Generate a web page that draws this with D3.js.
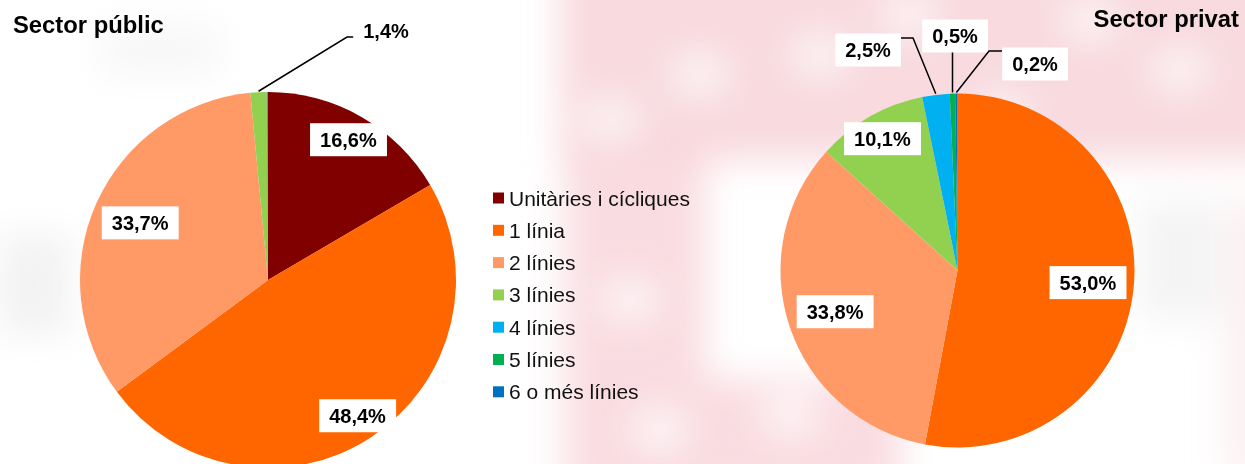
<!DOCTYPE html>
<html>
<head>
<meta charset="utf-8">
<script src="https://cdn.jsdelivr.net/npm/d3@7"></script>
<style>
  body { margin: 0; background: #fff; }
  svg { display: block; font-family: Arial, "Liberation Sans", sans-serif; }
</style>
</head>
<body>
<div id="chart"></div>
<script>
// categories and values (percent)
const categories = ["Unitàries i cícliques", "1 línia", "2 línies", "3 línies", "4 línies", "5 línies", "6 o més línies"];
const colorList = ["#800000", "#ff6600", "#ff9966", "#92d050", "#00b0f0", "#00b050", "#0070c0"];
const publicValues = [16.6, 48.4, 33.7, 1.4, 0.05, 0.0, 0.05];
const privateValues = [0.0, 53.0, 33.8, 10.1, 2.5, 0.5, 0.2];
const publicLabels = ["16,6%", "48,4%", "33,7%", "1,4%", "", "", ""];
const privateLabels = ["", "53,0%", "33,8%", "10,1%", "2,5%", "0,5%", "0,2%"];

var width = 1245, height = 464;

var svg = d3.select("#chart")
  .append("svg")
  .attr("width", width)
  .attr("height", height);

// faint watermark in the background
var defs = svg.append("defs");
defs.append("filter").attr("id", "blur")
  .attr("filterUnits", "userSpaceOnUse")
  .attr("x", -200).attr("y", -200).attr("width", 1700).attr("height", 900)
  .append("feGaussianBlur").attr("stdDeviation", 18);

var bg = svg.append("g").attr("filter", "url(#blur)");
var pink = "#f7d3d9";
bg.append("rect").attr("x", 560).attr("y", -40).attr("width", 720).attr("height", 200).attr("fill", pink).attr("opacity", 0.85);
bg.append("rect").attr("x", 565).attr("y", 150).attr("width", 140).attr("height", 360).attr("fill", pink).attr("opacity", 0.8);
bg.append("rect").attr("x", 700).attr("y", 380).attr("width", 200).attr("height", 120).attr("fill", pink).attr("opacity", 0.8);
bg.append("rect").attr("x", 1225).attr("y", 200).attr("width", 60).attr("height", 280).attr("fill", pink).attr("opacity", 0.35);
bg.append("rect").attr("x", 1140).attr("y", 200).attr("width", 80).attr("height", 120).attr("fill", "#f4f4f4");
// lighter spots inside the pink area
[[700, 75], [820, 55], [610, 120], [1000, 115], [1180, 70], [660, 430], [790, 415], [910, 15], [1090, 20], [630, 300]].forEach(function (p) {
  bg.append("ellipse").attr("cx", p[0]).attr("cy", p[1]).attr("rx", 28).attr("ry", 20).attr("fill", "#fff").attr("opacity", 0.8);
});
// grey blobs on the left
bg.append("rect").attr("x", 0).attr("y", 235).attr("width", 70).attr("height", 100).attr("fill", "#f2f2f2");
bg.append("rect").attr("x", 100).attr("y", 25).attr("width", 120).attr("height", 50).attr("fill", "#f7f7f7");

var color = d3.scaleOrdinal().domain(categories).range(colorList);

var pie = d3.pie().sort(null).value(function (d) { return d.value; });

function drawPie(values, labels, cx, cy, r, labelRadius, leaders) {
  var data = categories.map(function (c, i) { return { cat: c, value: values[i], label: labels[i] }; });
  var arcs = pie(data);
  var arc = d3.arc().innerRadius(0).outerRadius(r);

  var g = svg.append("g").attr("transform", "translate(" + cx + "," + cy + ")");

  g.selectAll("path")
    .data(arcs)
    .enter().append("path")
    .attr("d", arc)
    .attr("fill", function (d) { return color(d.data.cat); });

  arcs.forEach(function (d, i) {
    if (!d.data.label) return;
    var mid = (d.startAngle + d.endAngle) / 2;
    var px, py;
    if (leaders[i]) {
      var L = leaders[i];
      var ox = Math.sin(mid) * (r + 1), oy = -Math.cos(mid) * (r + 1);
      var pts = [[ox, oy]].concat(L.path);
      g.append("path")
        .attr("d", d3.line()(pts))
        .attr("fill", "none")
        .attr("stroke", "#000")
        .attr("stroke-width", 1.5);
      px = L.text[0]; py = L.text[1];
    } else {
      var k = labelRadius[i] * r;
      px = Math.sin(mid) * k; py = -Math.cos(mid) * k;
    }
    var t = g.append("text")
      .attr("x", px)
      .attr("y", py)
      .attr("dy", "0.36em")
      .attr("text-anchor", "middle")
      .attr("font-size", 20)
      .attr("font-weight", "bold")
      .text(d.data.label);
    var bb = t.node().getBBox();
    g.insert("rect", function () { return t.node(); })
      .attr("x", bb.x - 10)
      .attr("y", py - 16.5)
      .attr("width", bb.width + 20)
      .attr("height", 33)
      .attr("fill", "#fff");
  });
}

// public sector pie
drawPie(publicValues, publicLabels, 268, 280, 188,
  [0.86, 0.865, 0.745, 0, 0, 0, 0],
  { 3: { path: [[79, -243], [89, -243]], text: [118, -249] } });

// private sector pie
drawPie(privateValues, privateLabels, 957.5, 270.5, 177,
  [0, 0.74, 0.73, 0.857, 0, 0, 0],
  {
    4: { path: [[-44.5, -232.5], [-57.5, -232.5]], text: [-89.5, -220.5] },
    5: { path: [[-5, -218.5]], text: [-2.5, -234.5] },
    6: { path: [[31.5, -219.5], [44.5, -219.5]], text: [77.5, -206.5] }
  });

// titles
svg.append("text").attr("x", 13).attr("y", 33)
  .attr("font-size", 23.8).attr("font-weight", "bold").text("Sector públic");
svg.append("text").attr("x", 1239).attr("y", 27).attr("text-anchor", "end")
  .attr("font-size", 23.8).attr("font-weight", "bold").text("Sector privat");

// legend
var legend = svg.selectAll(".legend")
  .data(categories)
  .enter().append("g")
  .attr("class", "legend")
  .attr("transform", function (d, i) { return "translate(493," + (198 + i * 32.3) + ")"; });

legend.append("rect")
  .attr("x", 0).attr("y", -5.5)
  .attr("width", 11).attr("height", 11)
  .attr("fill", function (d) { return color(d); });

legend.append("text")
  .attr("x", 16).attr("y", 0).attr("dy", "0.36em")
  .attr("font-size", 21)
  .attr("fill", "#111")
  .text(function (d) { return d; });
</script>
</body>
</html>
